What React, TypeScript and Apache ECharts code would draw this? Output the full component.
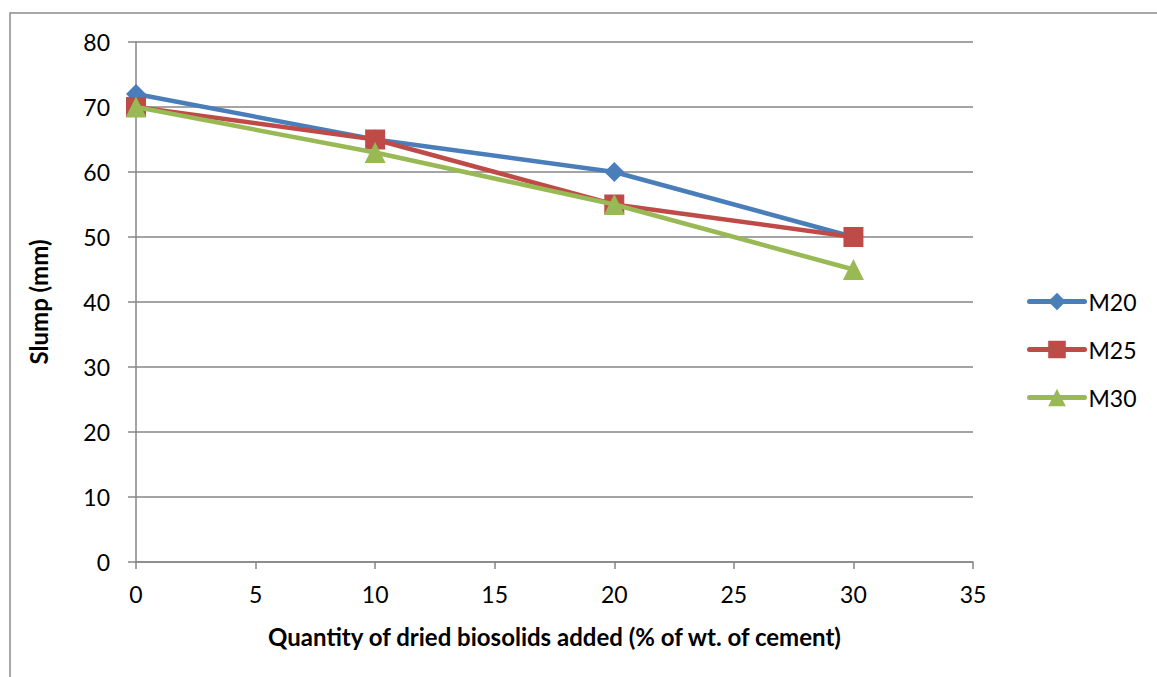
import React, { useEffect, useRef } from "react";
import * as echarts from "echarts";

const xValues = [0, 10, 20, 30];
const seriesNames = ["M20", "M25", "M30"];
const m20 = [72, 65, 60, 50];
const m25 = [70, 65, 55, 50];
const m30 = [70, 63, 55, 45];
const colors = ["#4A7EBB", "#BE4B48", "#98B954"];
const symbols = ["diamond", "rect", "triangle"];
const symbolSizes = [20, 20, 21];

const FONT = "Lato, 'Open Sans', sans-serif";

export default function App() {
  const ref = useRef<HTMLDivElement>(null);

  useEffect(() => {
    document.body.style.margin = "0";
    const chart = echarts.init(ref.current!, undefined, { renderer: "svg" });
    const values = [m20, m25, m30];
    chart.setOption({
      animation: false,
      backgroundColor: "#ffffff",
      textStyle: { fontFamily: FONT },
      graphic: [
        {
          type: "rect",
          shape: { x: 10, y: 13, width: 1200, height: 700 },
          style: { fill: "none", stroke: "#8C8C8C", lineWidth: 1.5 },
          silent: true,
          z: -1,
        },
      ],
      grid: { left: 136, top: 42, width: 837, height: 520 },
      legend: {
        orient: "vertical",
        left: 1027,
        top: 290,
        padding: 0,
        itemWidth: 55,
        itemHeight: 22,
        itemGap: 25,
        lineStyle: { width: 5, cap: "round" },
        textStyle: { fontSize: 23, color: "#000", fontFamily: FONT, padding: [0, 0, 0, -1] },
        data: seriesNames,
      },
      xAxis: {
        type: "value",
        min: 0,
        max: 35,
        interval: 5,
        name: "Quantity of dried biosolids added (% of wt. of cement)",
        nameLocation: "middle",
        nameGap: 62,
        nameTextStyle: { fontSize: 24, fontWeight: "bold", color: "#000", fontFamily: FONT },
        axisLine: { show: true, lineStyle: { color: "#868686", width: 1.5 } },
        axisTick: { show: true, length: 7, lineStyle: { color: "#868686", width: 1.5 } },
        axisLabel: { fontSize: 23, color: "#000", margin: 20, fontFamily: FONT },
        splitLine: { show: false },
      },
      yAxis: {
        type: "value",
        min: 0,
        max: 80,
        interval: 10,
        name: "Slump (mm)",
        nameLocation: "middle",
        nameGap: 86,
        nameTextStyle: { fontSize: 24, fontWeight: "bold", color: "#000", fontFamily: FONT },
        axisLine: { show: true, lineStyle: { color: "#868686", width: 1.5 } },
        axisTick: { show: true, length: 8, lineStyle: { color: "#868686", width: 1.5 } },
        axisLabel: { fontSize: 23, color: "#000", margin: 26, fontFamily: FONT },
        splitLine: { show: true, lineStyle: { color: "#868686", width: 1.5 } },
      },
      series: seriesNames.map((name, i) => ({
        name,
        type: "line",
        data: xValues.map((x, j) => [x, values[i][j]]),
        symbol: symbols[i],
        symbolSize: symbolSizes[i],
        lineStyle: { color: colors[i], width: 4.5, cap: "round" },
        itemStyle: { color: colors[i] },
        z: 3 + i,
      })),
    });
    return () => chart.dispose();
  }, []);

  return <div ref={ref} style={{ position: "absolute", left: 0, top: 0, width: 1157, height: 677 }} />;
}
